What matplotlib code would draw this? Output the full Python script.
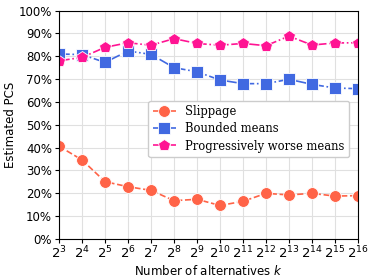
import numpy as np
import matplotlib
matplotlib.use("Agg")
import matplotlib.pyplot as plt
from matplotlib.ticker import FuncFormatter

# exponents of k = 2^n
exponents = list(range(3, 17))

slippage = [40.6, 34.6, 25.1, 22.9, 21.3, 16.8, 17.4, 14.7, 16.5, 20.0, 19.3, 20.0, 18.8, 19.0]
bounded = [81.0, 80.7, 77.3, 82.3, 80.8, 75.0, 73.2, 69.6, 68.0, 68.0, 69.9, 67.7, 66.1, 65.8]
progressive = [78.0, 79.5, 83.9, 85.9, 84.8, 87.7, 85.6, 84.8, 85.6, 84.6, 88.8, 84.9, 85.8, 85.9]

series_names = ["Slippage", "Bounded means", "Progressively worse means"]

fig = plt.figure(figsize=(3.74, 2.77), dpi=100)
ax = fig.add_axes([0.158, 0.137, 0.799, 0.825])

ax.plot(exponents, slippage, color="tomato", ls="--", marker="o", ms=8.5,
        mec="white", mew=0.6, lw=1.2, label=series_names[0])
ax.plot(exponents, bounded, color="royalblue", ls="-.", marker="s", ms=8,
        mec="white", mew=0.6, lw=1.2, label=series_names[1])
ax.plot(exponents, progressive, color="deeppink", ls="-.", marker="p", ms=9,
        mec="white", mew=0.6, lw=1.2, label=series_names[2])

ax.set_xlim(3, 16)
ax.set_ylim(0, 100)
ax.set_xticks(exponents)
ax.set_xticklabels([r"$2^{%d}$" % n for n in exponents])
ax.set_yticks(np.arange(0, 101, 10))
ax.yaxis.set_major_formatter(FuncFormatter(lambda v, p: "%d%%" % v))
ax.tick_params(labelsize=8.5, length=3, pad=2)
ax.tick_params(axis="x", labelsize=9.5, pad=1)
ax.grid(True, color="#e0e0e0", lw=0.8)
ax.set_axisbelow(True)

ax.set_xlabel(r"Number of alternatives $k$", fontsize=8.5, labelpad=2)
ax.set_ylabel("Estimated PCS", fontsize=8.5, labelpad=1)

ax.legend(loc="upper right", bbox_to_anchor=(0.99, 0.63),
          prop={"family": "DejaVu Serif", "size": 8.3},
          handlelength=2.0, borderpad=0.4, labelspacing=0.35, framealpha=1)

fig.savefig("out.png", dpi=100)
